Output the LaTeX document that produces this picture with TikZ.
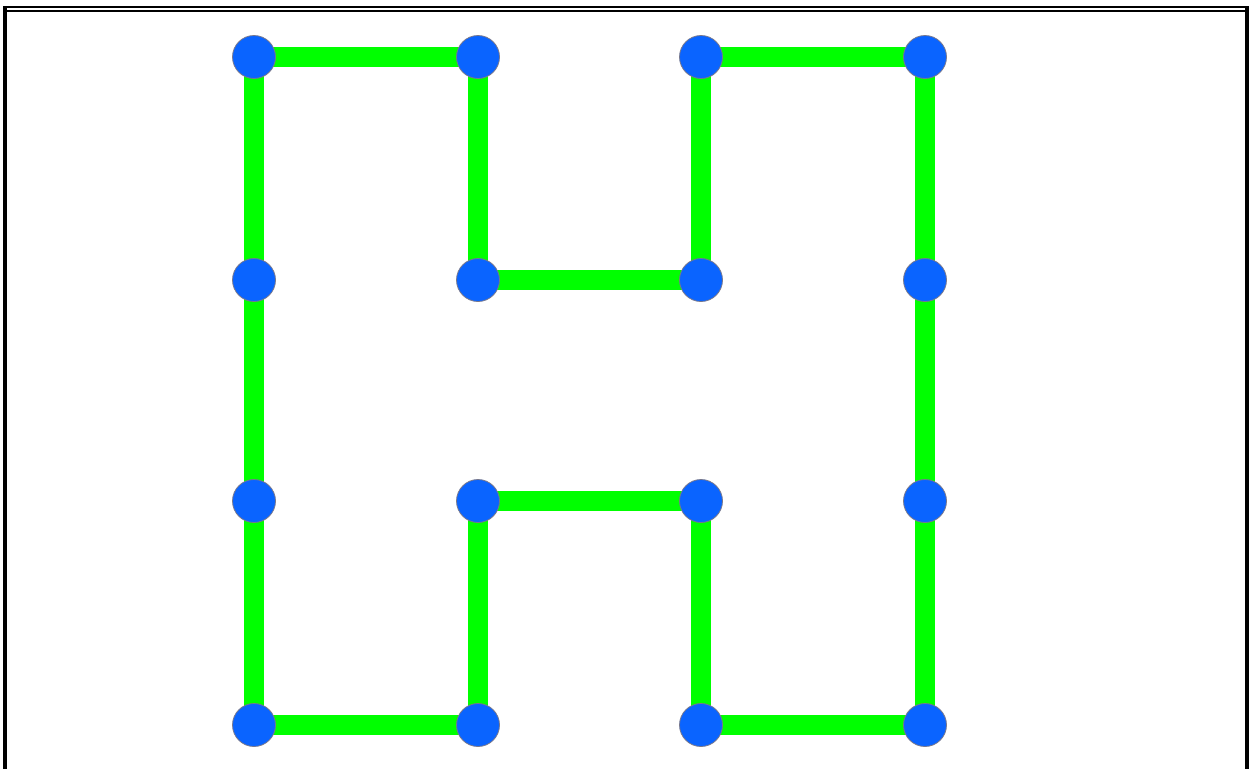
\documentclass[tikz,border=0pt]{standalone}
\usetikzlibrary{backgrounds}
\definecolor{dotblue}{RGB}{10,100,255}
\definecolor{edgegreen}{RGB}{0,255,0}
\definecolor{dotrim}{RGB}{120,120,140}
\begin{document}
\begin{tikzpicture}[x=1pt,y=-1pt,
  dot/.style={circle,fill=dotblue,draw=dotrim,line width=0.8pt,minimum size=43pt,inner sep=0pt},
  edge/.style={draw=edgegreen,line width=20pt}]
\useasboundingbox (0,0) rectangle (1249,769);
% frame
\draw[line width=4pt] (5,7) -- (5,769);
\draw[line width=2pt] (3,7) -- (1249,7);
\draw[line width=2pt] (7,11) -- (1245,11);
\draw[line width=4pt] (1247,6) -- (1247,769);
% nodes
\foreach \i/\x in {0/254,1/478,2/701,3/925}{
  \foreach \j/\y in {0/57,1/280,2/501,3/725}{
    \node[dot] (n\i\j) at (\x,\y) {};
  }
}
\begin{scope}[on background layer]
\draw[edge] (n00.center) -- (n10.center);
\draw[edge] (n10.center) -- (n11.center);
\draw[edge] (n11.center) -- (n21.center);
\draw[edge] (n21.center) -- (n20.center);
\draw[edge] (n20.center) -- (n30.center);
\draw[edge] (n30.center) -- (n31.center);
\draw[edge] (n31.center) -- (n32.center);
\draw[edge] (n32.center) -- (n33.center);
\draw[edge] (n33.center) -- (n23.center);
\draw[edge] (n23.center) -- (n22.center);
\draw[edge] (n22.center) -- (n12.center);
\draw[edge] (n12.center) -- (n13.center);
\draw[edge] (n13.center) -- (n03.center);
\draw[edge] (n03.center) -- (n02.center);
\draw[edge] (n02.center) -- (n01.center);
\draw[edge] (n01.center) -- (n00.center);
\end{scope}
\end{tikzpicture}
\end{document}
